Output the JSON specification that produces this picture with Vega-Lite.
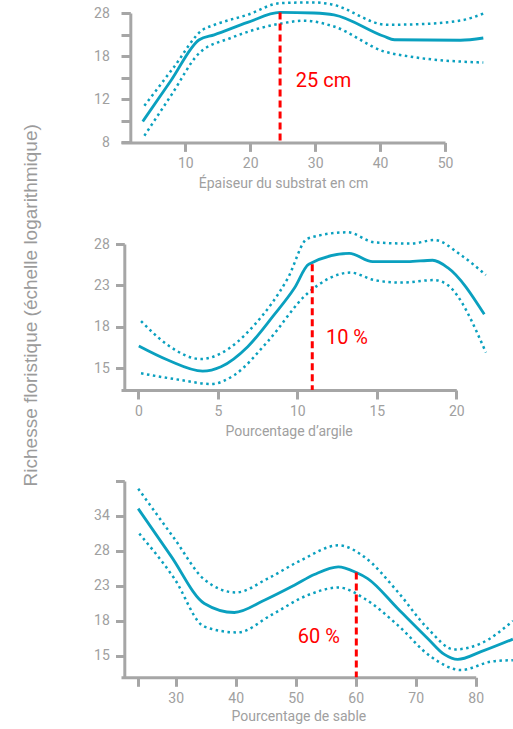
{
  "$schema": "https://vega.github.io/schema/vega-lite/v6.json",
  "padding": {"top": -3, "left": 21, "right": 0, "bottom": 0},
  "background": "white",
  "title": {"text": "Richesse floristique (échelle logarithmique)", "orient": "left", "anchor": "middle", "fontSize": 19, "font": "Liberation Sans", "fontWeight": "normal", "color": "#9b9b9b", "offset": 53, "dx": 55},
  "config": {
    "view": {"stroke": null},
    "axis": {"domainColor": "#a6a6a6", "domainWidth": 3, "tickColor": "#a6a6a6", "tickWidth": 3, "tickSize": 9, "labelColor": "#a0a0a0", "labelFontSize": 14, "labelFont": "Roboto", "titleColor": "#a0a0a0", "titleFontSize": 14, "titleFont": "Roboto", "titleFontWeight": "normal", "grid": false, "labelFlush": false, "labelOverlap": false}
  },
  "datasets": {
    "c": [
      {"p": 1, "s": "fit", "x": 3.45, "y": 10.08}, {"p": 1, "s": "fit", "x": 7.8, "y": 14.73}, {"p": 1, "s": "fit", "x": 12.15, "y": 21.5}, {"p": 1, "s": "fit", "x": 14.46, "y": 22.5}, {"p": 1, "s": "fit", "x": 19.6, "y": 25.25}, {"p": 1, "s": "fit", "x": 24.57, "y": 27.7}, {"p": 1, "s": "fit", "x": 29.8, "y": 27.55}, {"p": 1, "s": "fit", "x": 32.9, "y": 27.1}, {"p": 1, "s": "fit", "x": 40.6, "y": 22.2}, {"p": 1, "s": "fit", "x": 42.2, "y": 21.5}, {"p": 1, "s": "fit", "x": 52.4, "y": 21.4}, {"p": 1, "s": "fit", "x": 55.9, "y": 21.85},
      {"p": 1, "s": "hi", "x": 3.7, "y": 11.66}, {"p": 1, "s": "hi", "x": 8.18, "y": 16.59}, {"p": 1, "s": "hi", "x": 12.7, "y": 23.6}, {"p": 1, "s": "hi", "x": 14.5, "y": 24.7}, {"p": 1, "s": "hi", "x": 19.6, "y": 27.1}, {"p": 1, "s": "hi", "x": 24.7, "y": 30.2}, {"p": 1, "s": "hi", "x": 29.8, "y": 30.4}, {"p": 1, "s": "hi", "x": 32.4, "y": 29.9}, {"p": 1, "s": "hi", "x": 41.1, "y": 24.7}, {"p": 1, "s": "hi", "x": 45.2, "y": 24.8}, {"p": 1, "s": "hi", "x": 52.4, "y": 25.7}, {"p": 1, "s": "hi", "x": 55.9, "y": 27.4},
      {"p": 1, "s": "lo", "x": 3.7, "y": 8.83}, {"p": 1, "s": "lo", "x": 7.92, "y": 12.96}, {"p": 1, "s": "lo", "x": 12.15, "y": 19.0}, {"p": 1, "s": "lo", "x": 17.0, "y": 21.85}, {"p": 1, "s": "lo", "x": 24.6, "y": 24.95}, {"p": 1, "s": "lo", "x": 28.3, "y": 25.65}, {"p": 1, "s": "lo", "x": 32.9, "y": 24.3}, {"p": 1, "s": "lo", "x": 40.6, "y": 19.3}, {"p": 1, "s": "lo", "x": 45.2, "y": 18.3}, {"p": 1, "s": "lo", "x": 55.9, "y": 17.4},
      {"p": 2, "s": "fit", "x": 0.03, "y": 16.84}, {"p": 2, "s": "fit", "x": 1.85, "y": 15.74}, {"p": 2, "s": "fit", "x": 4.05, "y": 14.92}, {"p": 2, "s": "fit", "x": 5.2, "y": 15.24}, {"p": 2, "s": "fit", "x": 6.88, "y": 16.79}, {"p": 2, "s": "fit", "x": 8.45, "y": 19.41}, {"p": 2, "s": "fit", "x": 9.81, "y": 22.25}, {"p": 2, "s": "fit", "x": 10.72, "y": 24.98}, {"p": 2, "s": "fit", "x": 13.27, "y": 26.34}, {"p": 2, "s": "fit", "x": 14.74, "y": 25.3}, {"p": 2, "s": "fit", "x": 16.94, "y": 25.3}, {"p": 2, "s": "fit", "x": 18.51, "y": 25.47}, {"p": 2, "s": "fit", "x": 19.46, "y": 24.58}, {"p": 2, "s": "fit", "x": 21.76, "y": 19.62},
      {"p": 2, "s": "hi", "x": 0.17, "y": 19.0}, {"p": 2, "s": "hi", "x": 1.85, "y": 16.92}, {"p": 2, "s": "hi", "x": 3.95, "y": 15.81}, {"p": 2, "s": "hi", "x": 5.2, "y": 16.26}, {"p": 2, "s": "hi", "x": 7.3, "y": 18.64}, {"p": 2, "s": "hi", "x": 9.4, "y": 23.35}, {"p": 2, "s": "hi", "x": 10.65, "y": 28.3}, {"p": 2, "s": "hi", "x": 13.17, "y": 29.15}, {"p": 2, "s": "hi", "x": 14.84, "y": 27.78}, {"p": 2, "s": "hi", "x": 17.15, "y": 27.6}, {"p": 2, "s": "hi", "x": 18.62, "y": 28.08}, {"p": 2, "s": "hi", "x": 20.3, "y": 26.1}, {"p": 2, "s": "hi", "x": 21.86, "y": 23.72},
      {"p": 2, "s": "lo", "x": 0.17, "y": 14.76}, {"p": 2, "s": "lo", "x": 2.68, "y": 14.29}, {"p": 2, "s": "lo", "x": 4.57, "y": 14.02}, {"p": 2, "s": "lo", "x": 6.04, "y": 14.64}, {"p": 2, "s": "lo", "x": 8.13, "y": 17.2}, {"p": 2, "s": "lo", "x": 10.65, "y": 21.72}, {"p": 2, "s": "lo", "x": 13.35, "y": 24.0}, {"p": 2, "s": "lo", "x": 14.84, "y": 23.15}, {"p": 2, "s": "lo", "x": 16.52, "y": 22.87}, {"p": 2, "s": "lo", "x": 18.62, "y": 23.15}, {"p": 2, "s": "lo", "x": 19.46, "y": 22.6}, {"p": 2, "s": "lo", "x": 21.86, "y": 16.33},
      {"p": 3, "s": "fit", "x": 23.75, "y": 35.08}, {"p": 3, "s": "fit", "x": 29.22, "y": 26.74}, {"p": 3, "s": "fit", "x": 34.77, "y": 20.39}, {"p": 3, "s": "fit", "x": 39.77, "y": 19.36}, {"p": 3, "s": "fit", "x": 44.77, "y": 20.77}, {"p": 3, "s": "fit", "x": 49.77, "y": 22.63}, {"p": 3, "s": "fit", "x": 53.1, "y": 24.06}, {"p": 3, "s": "fit", "x": 57.1, "y": 25.15}, {"p": 3, "s": "fit", "x": 60.1, "y": 24.34}, {"p": 3, "s": "fit", "x": 62.0, "y": 23.51}, {"p": 3, "s": "fit", "x": 67.0, "y": 19.81}, {"p": 3, "s": "fit", "x": 72.0, "y": 16.69}, {"p": 3, "s": "fit", "x": 74.77, "y": 15.23}, {"p": 3, "s": "fit", "x": 77.0, "y": 14.8}, {"p": 3, "s": "fit", "x": 80.88, "y": 15.47}, {"p": 3, "s": "fit", "x": 86.2, "y": 16.62},
      {"p": 3, "s": "hi", "x": 23.75, "y": 39.33}, {"p": 3, "s": "hi", "x": 29.77, "y": 29.56}, {"p": 3, "s": "hi", "x": 34.77, "y": 23.38}, {"p": 3, "s": "hi", "x": 40.05, "y": 21.71}, {"p": 3, "s": "hi", "x": 45.33, "y": 23.51}, {"p": 3, "s": "hi", "x": 50.88, "y": 26.11}, {"p": 3, "s": "hi", "x": 57.17, "y": 28.44}, {"p": 3, "s": "hi", "x": 61.43, "y": 26.62}, {"p": 3, "s": "hi", "x": 67.0, "y": 21.8}, {"p": 3, "s": "hi", "x": 72.0, "y": 17.67}, {"p": 3, "s": "hi", "x": 76.43, "y": 15.67}, {"p": 3, "s": "hi", "x": 80.88, "y": 16.22}, {"p": 3, "s": "hi", "x": 86.2, "y": 18.45},
      {"p": 3, "s": "lo", "x": 23.93, "y": 30.41}, {"p": 3, "s": "lo", "x": 29.77, "y": 23.51}, {"p": 3, "s": "lo", "x": 34.77, "y": 17.85}, {"p": 3, "s": "lo", "x": 40.33, "y": 17.27}, {"p": 3, "s": "lo", "x": 45.88, "y": 19.07}, {"p": 3, "s": "lo", "x": 52.0, "y": 21.38}, {"p": 3, "s": "lo", "x": 57.17, "y": 22.34}, {"p": 3, "s": "lo", "x": 61.43, "y": 20.98}, {"p": 3, "s": "lo", "x": 67.0, "y": 18.01}, {"p": 3, "s": "lo", "x": 72.55, "y": 15.03}, {"p": 3, "s": "lo", "x": 77.55, "y": 13.93}, {"p": 3, "s": "lo", "x": 82.55, "y": 14.61}, {"p": 3, "s": "lo", "x": 86.2, "y": 14.74}
    ],
    "m": [
      {"p": 1, "k": "rule", "x": 24.6, "y": 27.7}, {"p": 1, "k": "label", "x": 27.03, "y": 14.61, "t": "25 cm"},
      {"p": 2, "k": "rule", "x": 10.94, "y": 24.98}, {"p": 2, "k": "label", "x": 11.8, "y": 17.48, "t": "10 %"},
      {"p": 3, "k": "rule", "x": 60.1, "y": 24.34}, {"p": 3, "k": "label", "x": 50.33, "y": 16.86, "t": "60 %"}
    ]
  },
  "spacing": 36,
  "bounds": "full",
  "vconcat": [
    {
      "width": 324, "height": 129.4,
      "encoding": {
        "x": {"field": "x", "type": "quantitative", "scale": {"domain": [0.1, 50], "nice": false, "zero": false}, "axis": {"values": [10, 20, 30, 40, 50], "title": "Épaiseur du substrat en cm", "labelPadding": 5, "titlePadding": 6}},
        "y": {"field": "y", "type": "quantitative", "scale": {"type": "log", "domain": [8.3, 27.55], "nice": false}, "axis": {"values": [8.3, 10.14, 12.38, 15.12, 18.47, 22.56, 27.55], "format": ".0f", "labelExpr": "indexof([8,12,18,28], round(datum.value)) >= 0 ? datum.label : ''", "title": null, "offset": -9.3, "tickSize": 9.3, "labelPadding": 11.7}}
      },
      "layer": [
        {"data": {"name": "c"}, "transform": [{"filter": "datum.p == 1 && datum.s != 'fit'"}], "mark": {"type": "line", "color": "#0aa0bf", "strokeWidth": 2.5, "strokeDash": [2.5, 3.5], "interpolate": "monotone"}, "encoding": {"detail": {"field": "s"}}},
        {"data": {"name": "c"}, "transform": [{"filter": "datum.p == 1 && datum.s == 'fit'"}], "mark": {"type": "line", "color": "#0aa0bf", "strokeWidth": 2.8, "interpolate": "monotone"}, "encoding": {}},
        {"data": {"name": "m"}, "transform": [{"filter": "datum.p == 1 && datum.k == 'rule'"}], "mark": {"type": "rule", "color": "#ff0000", "strokeWidth": 3, "strokeDash": [7, 4]}, "encoding": {"y2": {"datum": 8.3}}},
        {"data": {"name": "m"}, "transform": [{"filter": "datum.p == 1 && datum.k == 'label'"}], "mark": {"type": "text", "color": "#ff0000", "font": "Roboto", "fontSize": 20, "align": "left", "baseline": "middle"}, "encoding": {"text": {"field": "t"}}}
      ]
    },
    {
      "width": 335.3, "height": 146,
      "encoding": {
        "x": {"field": "x", "type": "quantitative", "scale": {"domain": [-1.09, 20], "nice": false, "zero": false}, "axis": {"values": [0, 5, 10, 15, 20], "title": "Pourcentage d’argile", "labelPadding": 5, "titlePadding": 6}},
        "y": {"field": "y", "type": "quantitative", "scale": {"type": "log", "domain": [13.62, 27.55], "nice": false}, "axis": {"values": [15.12, 18.47, 22.56, 27.55], "format": ".0f", "title": null, "offset": -3.3, "tickSize": 8.8, "labelPadding": 6.2}}
      },
      "layer": [
        {"data": {"name": "c"}, "transform": [{"filter": "datum.p == 2 && datum.s != 'fit'"}], "mark": {"type": "line", "color": "#0aa0bf", "strokeWidth": 2.5, "strokeDash": [2.5, 3.5], "interpolate": "monotone"}, "encoding": {"detail": {"field": "s"}}},
        {"data": {"name": "c"}, "transform": [{"filter": "datum.p == 2 && datum.s == 'fit'"}], "mark": {"type": "line", "color": "#0aa0bf", "strokeWidth": 2.8, "interpolate": "monotone"}, "encoding": {}},
        {"data": {"name": "m"}, "transform": [{"filter": "datum.p == 2 && datum.k == 'rule'"}], "mark": {"type": "rule", "color": "#ff0000", "strokeWidth": 3, "strokeDash": [7, 4]}, "encoding": {"y2": {"datum": 13.62}}},
        {"data": {"name": "m"}, "transform": [{"filter": "datum.p == 2 && datum.k == 'label'"}], "mark": {"type": "text", "color": "#ff0000", "font": "Roboto", "fontSize": 20, "align": "left", "baseline": "middle"}, "encoding": {"text": {"field": "t"}}}
      ]
    },
    {
      "width": 354.7, "height": 196.3,
      "encoding": {
        "x": {"field": "x", "type": "quantitative", "scale": {"domain": [20.88, 80], "nice": false, "zero": false}, "axis": {"values": [23.75, 30, 40, 50, 60, 70, 80], "labelExpr": "datum.value % 10 == 0 ? datum.label : ''", "title": "Pourcentage de sable", "labelPadding": 5, "titlePadding": 4}},
        "y": {"field": "y", "type": "quantitative", "scale": {"type": "log", "domain": [13.36, 41.1], "nice": false}, "axis": {"values": [15.12, 18.47, 22.56, 27.55, 33.65, 41.1], "format": ".0f", "labelExpr": "datum.value < 40 ? datum.label : ''", "title": null, "offset": -3.3, "tickSize": 8.8, "labelPadding": 6.2}}
      },
      "layer": [
        {"data": {"name": "c"}, "transform": [{"filter": "datum.p == 3 && datum.s != 'fit'"}], "mark": {"type": "line", "color": "#0aa0bf", "strokeWidth": 2.5, "strokeDash": [2.5, 3.5], "interpolate": "monotone"}, "encoding": {"detail": {"field": "s"}}},
        {"data": {"name": "c"}, "transform": [{"filter": "datum.p == 3 && datum.s == 'fit'"}], "mark": {"type": "line", "color": "#0aa0bf", "strokeWidth": 2.8, "interpolate": "monotone"}, "encoding": {}},
        {"data": {"name": "m"}, "transform": [{"filter": "datum.p == 3 && datum.k == 'rule'"}], "mark": {"type": "rule", "color": "#ff0000", "strokeWidth": 3, "strokeDash": [7, 4]}, "encoding": {"y2": {"datum": 13.36}}},
        {"data": {"name": "m"}, "transform": [{"filter": "datum.p == 3 && datum.k == 'label'"}], "mark": {"type": "text", "color": "#ff0000", "font": "Roboto", "fontSize": 20, "align": "left", "baseline": "middle"}, "encoding": {"text": {"field": "t"}}}
      ]
    }
  ]
}
